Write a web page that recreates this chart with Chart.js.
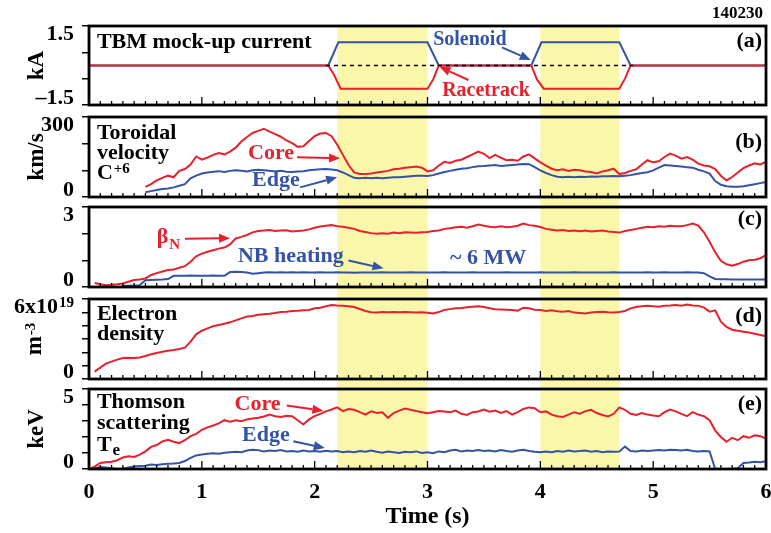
<!DOCTYPE html>
<html>
<head>
<meta charset="utf-8">
<title>Shot 140230 - TBM mock-up</title>
<script src="https://cdn.jsdelivr.net/npm/chart.js@4.4.1/dist/chart.umd.min.js"></script>
<style>
  body { margin: 0; background: #fff; }
  #wrap { position: relative; width: 771px; height: 533px; }
  #wrap canvas { position: absolute; left: 0; }
</style>
</head>
<body>
<div id="wrap">
  <canvas id="panelA" width="771" height="111" style="top:0px"></canvas>
  <canvas id="panelB" width="771" height="91" style="top:111px"></canvas>
  <canvas id="panelC" width="771" height="91" style="top:202px"></canvas>
  <canvas id="panelD" width="771" height="91" style="top:293px"></canvas>
  <canvas id="panelE" width="771" height="149" style="top:384px"></canvas>
</div>
<script>
// ---- data (shot 140230) ----
var shadedIntervals = [[2.2, 3.0], [4.0, 4.7]];

// (a) TBM mock-up current, kA
var solenoidT = [0, 2.12, 2.21, 3.00, 3.10, 3.92, 4.01, 4.70, 4.80, 6];
var solenoidKA = [0, 0, 0.88, 0.88, 0, 0, 0.88, 0.88, 0, 0];
var racetrackT = [0, 2.12, 2.17, 2.23, 3.00, 3.05, 3.10, 3.92, 3.97, 4.03, 4.70, 4.75, 4.80, 6];
var racetrackKA = [0, 0, -0.34, -0.88, -0.88, -0.53, 0, 0, -0.53, -0.88, -0.88, -0.50, 0, 0];
var zeroRefT = [2.1, 4.82];
var zeroRefKA = [0, 0];
var currentTicks = [-1.5, -0.5, 0.5, 1.5];

// common time base for the profile traces, s
var time = [
  0.00, 0.05, 0.10, 0.15, 0.20, 0.25, 0.30, 0.35, 0.40, 0.45,
  0.50, 0.55, 0.60, 0.65, 0.70, 0.75, 0.80, 0.85, 0.90, 0.95,
  1.00, 1.05, 1.10, 1.15, 1.20, 1.25, 1.30, 1.35, 1.40, 1.45,
  1.50, 1.55, 1.60, 1.65, 1.70, 1.75, 1.80, 1.85, 1.90, 1.95,
  2.00, 2.05, 2.10, 2.15, 2.20, 2.25, 2.30, 2.35, 2.40, 2.45,
  2.50, 2.55, 2.60, 2.65, 2.70, 2.75, 2.80, 2.85, 2.90, 2.95,
  3.00, 3.05, 3.10, 3.15, 3.20, 3.25, 3.30, 3.35, 3.40, 3.45,
  3.50, 3.55, 3.60, 3.65, 3.70, 3.75, 3.80, 3.85, 3.90, 3.95,
  4.00, 4.05, 4.10, 4.15, 4.20, 4.25, 4.30, 4.35, 4.40, 4.45,
  4.50, 4.55, 4.60, 4.65, 4.70, 4.75, 4.80, 4.85, 4.90, 4.95,
  5.00, 5.05, 5.10, 5.15, 5.20, 5.25, 5.30, 5.35, 5.40, 5.45,
  5.50, 5.55, 5.60, 5.65, 5.70, 5.75, 5.80, 5.85, 5.90, 5.95,
  6.00
];

// (b) toroidal velocity C+6, km/s
var coreVelocity = [
  null, null, null, null, null, null, null, null, null, null,
  38, 48, 62, 72, 80, 74, 98, 105, 122, 152,
  140, 148, 158, 165, 160, 170, 185, 208, 225, 240,
  248, 256, 245, 236, 226, 212, 202, 188, 190, 210,
  228, 238, 240, 228, 196, 158, 120, 92, 86, 86,
  88, 92, 95, 98, 104, 106, 110, 112, 114, 110,
  96, 100, 118, 132, 128, 136, 140, 150, 160, 170,
  162, 146, 158, 148, 138, 140, 136, 152, 160, 145,
  130, 118, 106, 100, 104, 98, 102, 100, 96, 94,
  88, 96, 100, 106, 86, 90, 98, 104, 122, 138,
  130, 134, 150, 163, 155, 144, 150, 140, 125, 118,
  115, 105, 80, 62, 75, 92, 108, 118, 126, 122,
  132
];
var edgeVelocity = [
  null, null, null, null, null, null, null, null, null, null,
  18, 22, 26, 30, 32, 36, 42, 48, 70, 80,
  88, 92, 95, 97, 94, 98, 100, 98, 96, 100,
  102, 100, 98, 96, 98, 95, 94, 96, 97, 100,
  102, 104, 105, 103, 100, 92, 82, 72, 70, 72,
  70, 72, 70, 72, 74, 74, 76, 78, 80, 80,
  79, 82, 88, 94, 98, 102, 106, 108, 112, 115,
  116, 118, 120, 116, 118, 120, 122, 124, 123, 112,
  100, 90, 82, 76, 74, 76, 74, 76, 75, 77,
  76, 78, 78, 79, 78, 80, 82, 86, 90, 93,
  100, 110, 120, 118, 116, 114, 112, 110, 102, 96,
  88, 60, 46, 40, 38, 38, 40, 44, 48, 52,
  56
];

// (c) normalised beta and NB heating
var betaN = [
  null, 0.15, 0.10, 0.07, 0.08, 0.10, 0.13, 0.20, 0.26, 0.28,
  0.32, 0.45, 0.52, 0.58, 0.64, 0.66, 0.72, 0.78, 0.95, 1.15,
  1.25, 1.32, 1.38, 1.44, 1.48, 1.60, 1.82, 1.88, 1.95, 2.05,
  2.10, 2.12, 2.14, 2.10, 2.12, 2.13, 2.08, 2.10, 2.12, 2.16,
  2.22, 2.27, 2.30, 2.32, 2.28, 2.26, 2.22, 2.18, 2.10, 2.06,
  2.02, 2.00, 2.02, 2.00, 2.04, 2.02, 2.05, 2.04, 2.03, 2.05,
  2.06, 2.10, 2.12, 2.18, 2.20, 2.24, 2.26, 2.22, 2.28, 2.34,
  2.30, 2.26, 2.24, 2.28, 2.24, 2.26, 2.30, 2.38, 2.32, 2.30,
  2.25, 2.18, 2.15, 2.12, 2.14, 2.10, 2.12, 2.09, 2.12, 2.08,
  2.10, 2.12, 2.08, 2.06, 2.04, 2.10, 2.14, 2.18, 2.22, 2.26,
  2.24, 2.28, 2.26, 2.30, 2.28, 2.28, 2.32, 2.38, 2.30, 2.05,
  1.70, 1.30, 0.98, 0.85, 0.80, 0.86, 0.95, 1.00, 1.02, 1.08,
  1.20
];
var nbHeating = [
  null, null, null, null, null, null, 0.05, 0.05, 0.06, 0.07,
  0.25, 0.26, 0.27, 0.28, 0.30, 0.42, 0.42, 0.42, 0.43, 0.42,
  0.42, 0.42, 0.43, 0.42, 0.42, 0.56, 0.57, 0.56, 0.54, 0.50,
  0.52, 0.54, 0.55, 0.54, 0.55, 0.54, 0.55, 0.54, 0.55, 0.54,
  0.54, 0.55, 0.54, 0.54, 0.55, 0.54, 0.54, 0.53, 0.54, 0.54,
  0.54, 0.54, 0.55, 0.54, 0.54, 0.54, 0.54, 0.55, 0.54, 0.54,
  0.54, 0.54, 0.54, 0.55, 0.54, 0.54, 0.54, 0.54, 0.55, 0.54,
  0.54, 0.54, 0.54, 0.54, 0.55, 0.54, 0.54, 0.54, 0.54, 0.54,
  0.55, 0.54, 0.54, 0.54, 0.54, 0.54, 0.55, 0.54, 0.54, 0.54,
  0.54, 0.54, 0.54, 0.55, 0.54, 0.54, 0.54, 0.54, 0.54, 0.55,
  0.54, 0.54, 0.55, 0.54, 0.54, 0.54, 0.55, 0.54, 0.54, 0.52,
  0.40, 0.30, 0.29, 0.29, 0.28, 0.28, 0.28, 0.28, 0.28, 0.28,
  0.28
];

// (d) electron density, 1e19 m^-3
var density = [
  null, 0.55, 0.85, 1.15, 1.30, 1.45, 1.58, 1.60, 1.58, 1.62,
  1.72, 1.85, 1.95, 2.05, 2.12, 2.18, 2.25, 2.35, 2.80, 3.35,
  3.62, 3.80, 3.95, 4.05, 4.15, 4.25, 4.40, 4.55, 4.68, 4.72,
  4.82, 4.86, 4.90, 4.95, 5.02, 5.05, 5.10, 5.12, 5.15, 5.18,
  5.30, 5.34, 5.45, 5.55, 5.52, 5.50, 5.45, 5.40, 5.25, 5.10,
  5.00, 4.98, 5.02, 5.00, 5.03, 5.00, 5.02, 5.00, 4.98, 5.00,
  4.96, 4.92, 5.02, 5.18, 5.24, 5.30, 5.32, 5.38, 5.42, 5.46,
  5.40, 5.30, 5.24, 5.22, 5.20, 5.18, 5.12, 5.35, 5.30, 5.20,
  5.18, 5.10, 5.15, 5.08, 5.05, 5.10, 4.98, 4.95, 4.92, 4.98,
  5.02, 5.05, 5.00, 4.98, 5.02, 5.10, 5.30, 5.40, 5.45, 5.50,
  5.45, 5.42, 5.50, 5.52, 5.55, 5.50, 5.58, 5.52, 5.50, 5.35,
  5.05, 5.15, 4.30, 3.90, 3.70, 3.62, 3.55, 3.48, 3.40, 3.30,
  3.20
];

// (e) Thomson scattering Te, keV
var teCore = [
  0.00, 0.15, 0.38, 0.42, 0.45, 0.55, 0.72, 0.80, 0.75, 0.90,
  1.10, 1.38, 1.50, 1.72, 1.82, 1.70, 1.62, 1.80, 2.05, 2.20,
  2.45, 2.60, 2.72, 2.85, 3.05, 2.95, 3.05, 2.98, 3.10, 3.15,
  3.20, 3.28, 3.40, 3.30, 3.25, 3.32, 3.30, 3.05, 2.78, 3.10,
  3.30, 3.45, 3.60, 3.72, 3.85, 3.62, 3.75, 3.70, 3.55, 3.40,
  3.60, 3.50, 3.55, 3.20, 3.50, 3.65, 3.78, 3.70, 3.62, 3.55,
  3.48, 3.55, 3.62, 3.60, 3.55, 3.65, 3.45, 3.38, 3.55, 3.60,
  3.72, 3.58, 3.65, 3.50, 3.62, 3.40, 3.55, 3.75, 3.85, 3.80,
  3.55, 3.60, 3.40, 3.30, 3.25, 3.40, 3.55, 3.45, 3.62, 3.70,
  3.50, 3.38, 3.28, 3.45, 3.85, 3.70, 3.45, 3.38, 3.50, 3.40,
  3.35, 3.30, 3.55, 3.72, 3.60, 3.45, 3.30, 3.55, 3.40, 3.30,
  3.05, 2.40, 2.00, 1.70, 1.95, 1.80, 2.05, 1.95, 2.10, 2.05,
  1.90
];
var teEdge = [
  0.00, 0.05, 0.12, 0.10, 0.05, 0.00, 0.02, 0.10, 0.15, 0.18,
  0.20, 0.28, 0.25, 0.30, 0.33, 0.35, 0.38, 0.50, 0.70, 0.85,
  0.90, 0.95, 0.98, 0.96, 1.02, 1.05, 1.08, 1.05, 1.15, 1.20,
  1.18, 1.10, 1.15, 1.12, 1.18, 1.10, 1.12, 1.08, 1.15, 1.10,
  1.12, 1.08, 1.14, 1.10, 1.12, 1.05, 1.10, 1.05, 1.12, 1.08,
  1.15, 1.08, 1.02, 1.10, 1.05, 1.00, 1.08, 1.05, 1.10, 1.00,
  1.05, 0.98, 1.10, 1.05, 1.15, 1.20, 1.10, 1.15, 1.12, 1.18,
  1.12, 1.15, 1.10, 1.18, 1.12, 1.08, 1.15, 1.20, 1.12, 1.08,
  1.05, 1.10, 1.05, 1.12, 1.08, 1.15, 1.10, 1.12, 1.15, 1.08,
  1.12, 1.05, 1.10, 1.08, 1.10, 1.40, 1.12, 1.10, 1.15, 1.12,
  1.15, 1.18, 1.15, 1.20, 1.18, 1.15, 1.20, 1.12, 1.10, 1.12,
  1.10, 0.00, 0.00, 0.00, 0.00, 0.05, 0.38, 0.40, 0.45, 0.42,
  0.48
];

// ---- drawing ----
var SERIF = '"Liberation Serif", "Times New Roman", serif';
var RED = '#e6212b';
var BLUE = '#3453a5';
var YELLOW = '#faf6aa';
var minorStep = 0.1;

Chart.defaults.font.family = SERIF;
Chart.defaults.color = '#000';

function serif(size) {
  return 'bold ' + size + 'px ' + SERIF;
}

function drawText(ctx, item, px, py) {
  var size = item.size || 22;
  var small = item.sup || item.sub;
  var shift = item.sup ? (item.supShift || -5) : (item.subShift || 7);
  ctx.textBaseline = 'middle';
  ctx.fillStyle = item.color || '#000';
  if (item.align === 'right' && small) {
    ctx.font = serif(item.smallSize || 15);
    var sw = ctx.measureText(small).width;
    ctx.textAlign = 'right';
    ctx.fillText(small, px, py + shift);
    ctx.font = serif(size);
    ctx.fillText(item.text, px - sw - 1, py);
    return;
  }
  ctx.font = serif(size);
  ctx.textAlign = item.align || 'left';
  ctx.fillText(item.text, px, py);
  if (small) {
    var w = ctx.measureText(item.text).width;
    ctx.font = serif(item.smallSize || 15);
    ctx.textAlign = 'left';
    ctx.fillText(small, px + w + 1, py + shift);
  }
}

function drawArrow(ctx, x1, y1, x2, y2, color) {
  var ang = Math.atan2(y2 - y1, x2 - x1);
  var c = Math.cos(ang), s = Math.sin(ang);
  var head = 11, half = 4.5;
  ctx.strokeStyle = color;
  ctx.fillStyle = color;
  ctx.lineWidth = 2;
  ctx.beginPath();
  ctx.moveTo(x1, y1);
  ctx.lineTo(x2 - head * c, y2 - head * s);
  ctx.stroke();
  ctx.beginPath();
  ctx.moveTo(x2, y2);
  ctx.lineTo(x2 - head * c + half * s, y2 - head * s - half * c);
  ctx.lineTo(x2 - head * c - half * s, y2 - head * s + half * c);
  ctx.closePath();
  ctx.fill();
}

var panelDecor = {
  id: 'panelDecor',
  beforeDatasetsDraw: function(chart, args, opts) {
    var ctx = chart.ctx, area = chart.chartArea, x = chart.scales.x;
    var top = opts.first ? area.top : 0;
    var bottom = opts.last ? area.bottom : chart.height;
    ctx.save();
    ctx.fillStyle = YELLOW;
    shadedIntervals.forEach(function(iv) {
      var x1 = x.getPixelForValue(iv[0]);
      var x2 = x.getPixelForValue(iv[1]);
      ctx.fillRect(x1, top, x2 - x1, bottom - top);
    });
    ctx.restore();
  },
  afterDatasetsDraw: function(chart, args, opts) {
    var ctx = chart.ctx, area = chart.chartArea;
    var x = chart.scales.x, y = chart.scales.y;
    ctx.save();

    // time ticks on the inside of the bottom edge
    ctx.strokeStyle = '#000';
    ctx.lineWidth = 1.3;
    for (var k = 0; k <= 60; k++) {
      var px = x.getPixelForValue(k * minorStep);
      var len = (k % 10 === 0) ? 8 : 4;
      ctx.beginPath();
      ctx.moveTo(px, area.bottom);
      ctx.lineTo(px, area.bottom - len);
      ctx.stroke();
    }

    // frame
    ctx.lineWidth = 2.8;
    ctx.strokeRect(area.left, area.top, area.right - area.left, area.bottom - area.top);

    // end labels of the value axis, nudged inside the frame
    (opts.yLabels || []).forEach(function(l) {
      var py = y.getPixelForValue(l.value) + (l.value === y.max ? 8 : -7);
      drawText(ctx, {text: l.text, sup: l.sup, supShift: -4, align: 'right', size: 22}, area.left - 15, py);
    });

    // rotated unit with superscript
    if (opts.unit) {
      ctx.save();
      ctx.translate(37, (area.top + area.bottom) / 2);
      ctx.rotate(-Math.PI / 2);
      ctx.font = serif(23);
      var mw = ctx.measureText(opts.unit.text).width;
      ctx.font = serif(15);
      var sw = ctx.measureText(opts.unit.sup).width;
      var start = -(mw + sw + 1) / 2;
      ctx.fillStyle = '#000';
      ctx.textAlign = 'left';
      ctx.textBaseline = 'alphabetic';
      ctx.font = serif(23);
      ctx.fillText(opts.unit.text, start, 4);
      ctx.font = serif(15);
      ctx.fillText(opts.unit.sup, start + mw + 1, -2);
      ctx.restore();
    }

    (opts.texts || []).forEach(function(t) {
      drawText(ctx, t, x.getPixelForValue(t.t), y.getPixelForValue(t.v));
    });

    (opts.arrows || []).forEach(function(a) {
      drawArrow(ctx,
        x.getPixelForValue(a.from[0]), y.getPixelForValue(a.from[1]),
        x.getPixelForValue(a.to[0]), y.getPixelForValue(a.to[1]), a.color);
    });

    if (opts.shot) {
      drawText(ctx, {text: opts.shot, size: 17, align: 'right'}, area.right - 3, area.top - 12);
    }
    ctx.restore();
  }
};

function trace(times, values, color, extra) {
  var ds = {
    data: times.map(function(t, i) { return {x: t, y: values[i]}; }),
    borderColor: color,
    borderWidth: 2,
    pointRadius: 0,
    tension: 0,
    fill: false,
    spanGaps: false
  };
  return Object.assign(ds, extra || {});
}

function makePanel(id, cfg) {
  var xAxis = {type: 'linear', min: 0, max: 6, display: false};
  if (cfg.showTime) {
    xAxis = {
      type: 'linear', min: 0, max: 6,
      afterFit: function(s) { s.height = 64; s.paddingLeft = 0; s.paddingRight = 0; },
      ticks: {stepSize: 1, color: '#000', padding: 10, maxRotation: 0, autoSkip: false,
               font: {family: SERIF, weight: 'bold', size: 22}},
      grid: {display: false, drawTicks: false},
      border: {display: false},
      title: {display: true, text: 'Time (s)', color: '#000',
              font: {family: SERIF, weight: 'bold', size: 24}, padding: {top: 0, bottom: 2}}
    };
  }
  var yAxis = {
    min: cfg.yMin, max: cfg.yMax,
    afterFit: function(s) { s.width = 89; },
    ticks: {display: false, stepSize: cfg.yStep},
    grid: {drawOnChartArea: false, drawTicks: true, tickLength: 7, color: '#000', lineWidth: 1.5},
    border: {display: false},
    title: cfg.yTitle ? {display: true, text: cfg.yTitle, color: '#000',
      font: {family: SERIF, weight: 'bold', size: 23}, padding: {top: 23, bottom: 0}} : {display: false}
  };
  if (cfg.yTicks) {
    yAxis.afterBuildTicks = function(s) {
      s.ticks = cfg.yTicks.map(function(v) { return {value: v}; });
    };
  }
  return new Chart(document.getElementById(id), {
    type: 'line',
    data: {datasets: cfg.datasets},
    options: {
      responsive: false,
      animation: false,
      events: [],
      layout: {padding: {top: cfg.padTop, bottom: cfg.padBottom, left: 0, right: 5}},
      plugins: {legend: {display: false}, tooltip: {enabled: false}, panelDecor: cfg.decor},
      scales: {x: xAxis, y: yAxis}
    },
    plugins: [panelDecor]
  });
}

// (a)
makePanel('panelA', {
  padTop: 26, padBottom: 6,
  yMin: -1.5, yMax: 1.5, yTicks: currentTicks, yTitle: 'kA',
  datasets: [
    trace(zeroRefT, zeroRefKA, '#000', {borderWidth: 1.5, borderDash: [4, 4]}),
    trace(racetrackT, racetrackKA, RED),
    trace(solenoidT, solenoidKA, BLUE)
  ],
  decor: {
    first: true,
    shot: '140230',
    yLabels: [{value: 1.5, text: '1.5'}, {value: -1.5, text: '\u20131.5'}],
    texts: [
      {t: 0.07, v: 0.87, text: 'TBM mock-up current'},
      {t: 3.05, v: 0.96, text: 'Solenoid', color: BLUE, size: 20},
      {t: 3.13, v: -0.98, text: 'Racetrack', color: RED, size: 20},
      {t: 5.965, v: 0.9, text: '(a)', align: 'right'}
    ],
    arrows: [
      {from: [3.66, 0.69], to: [3.915, 0.21], color: BLUE},
      {from: [3.363, -0.55], to: [3.106, -0.05], color: RED}
    ]
  }
});

// (b)
makePanel('panelB', {
  padTop: 6, padBottom: 5,
  yMin: 0, yMax: 300, yStep: 100, yTitle: 'km/s',
  datasets: [
    trace(time, coreVelocity, RED),
    trace(time, edgeVelocity, BLUE)
  ],
  decor: {
    yLabels: [{value: 300, text: '300'}, {value: 0, text: '0'}],
    texts: [
      {t: 0.07, v: 240, text: 'Toroidal'},
      {t: 0.07, v: 165, text: 'velocity'},
      {t: 0.07, v: 87, text: 'C', sup: '+6'},
      {t: 1.41, v: 165, text: 'Core', color: RED},
      {t: 1.445, v: 64, text: 'Edge', color: BLUE},
      {t: 5.965, v: 204, text: '(b)', align: 'right'}
    ],
    arrows: [
      {from: [1.844, 149], to: [2.225, 145], color: RED},
      {from: [1.871, 36], to: [2.199, 74], color: BLUE}
    ]
  }
});

// (c)
makePanel('panelC', {
  padTop: 5, padBottom: 6,
  yMin: 0, yMax: 3, yStep: 1,
  datasets: [
    trace(time, betaN, RED),
    trace(time, nbHeating, BLUE)
  ],
  decor: {
    yLabels: [{value: 3, text: '3'}, {value: 0, text: '0'}],
    texts: [
      {t: 0.60, v: 1.87, text: '\u03b2', sub: 'N', subShift: 8, color: RED},
      {t: 1.32, v: 1.15, text: 'NB heating', color: BLUE},
      {t: 3.20, v: 1.09, text: '~ 6 MW', color: BLUE},
      {t: 5.965, v: 2.55, text: '(c)', align: 'right'}
    ],
    arrows: [
      {from: [0.851, 1.81], to: [1.25, 1.83], color: RED},
      {from: [2.30, 0.99], to: [2.61, 0.70], color: BLUE}
    ]
  }
});

// (d)
makePanel('panelD', {
  padTop: 6, padBottom: 5,
  yMin: 0, yMax: 6, yStep: 1,
  datasets: [
    trace(time, density, RED)
  ],
  decor: {
    unit: {text: 'm', sup: '-3'},
    yLabels: [{value: 6, text: '6x10', sup: '19'}, {value: 0, text: '0'}],
    texts: [
      {t: 0.07, v: 4.83, text: 'Electron'},
      {t: 0.07, v: 3.35, text: 'density'},
      {t: 5.965, v: 4.7, text: '(d)', align: 'right'}
    ]
  }
});

// (e)
makePanel('panelE', {
  padTop: 5, padBottom: 0, showTime: true,
  yMin: 0, yMax: 5, yStep: 1, yTitle: 'keV',
  datasets: [
    trace(time, teCore, RED),
    trace(time, teEdge, BLUE)
  ],
  decor: {
    last: true,
    yLabels: [{value: 5, text: '5'}, {value: 0, text: '0'}],
    texts: [
      {t: 0.07, v: 4.17, text: 'Thomson'},
      {t: 0.07, v: 2.88, text: 'scattering'},
      {t: 0.07, v: 1.46, text: 'T', sub: 'e', subShift: 5, smallSize: 17},
      {t: 1.29, v: 4.06, text: 'Core', color: RED},
      {t: 1.356, v: 2.08, text: 'Edge', color: BLUE},
      {t: 5.965, v: 4.04, text: '(e)', align: 'right'}
    ],
    arrows: [
      {from: [1.753, 3.97], to: [2.077, 3.64], color: RED},
      {from: [1.811, 1.73], to: [2.09, 1.31], color: BLUE}
    ]
  }
});
</script>
</body>
</html>
